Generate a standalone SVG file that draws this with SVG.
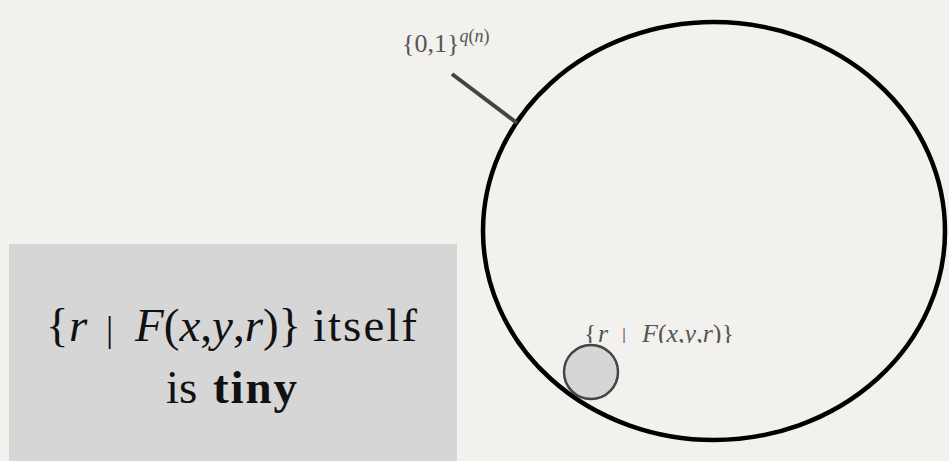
<svg xmlns="http://www.w3.org/2000/svg" width="949" height="461" viewBox="0 0 949 461">
<defs>
<style>
.lbl{font-family:"Liberation Serif","DejaVu Serif",serif;fill:#555}
.big{font-family:"Liberation Serif","DejaVu Serif",serif;fill:#111;font-size:47px}
.it{font-style:italic}
</style>
<clipPath id="clipLbl"><rect x="570" y="300" width="200" height="43"/></clipPath>
</defs>
<rect x="0" y="0" width="949" height="461" fill="#f2f1ed"/>
<g id="box">
<rect x="9" y="244" width="448" height="220" fill="#d6d6d6"/>
<text class="big" y="341"><tspan x="46">{</tspan><tspan class="it" x="69">r</tspan><tspan x="106" font-size="36">|</tspan><tspan x="135" class="it">F</tspan>(<tspan class="it">x</tspan>,<tspan class="it">y</tspan>,<tspan class="it">r</tspan>)}</text>
<text class="big" x="313" y="341" textLength="104" lengthAdjust="spacing">itself</text>
<text class="big" x="166" y="403">is</text>
<text class="big" x="213" y="403" font-weight="bold" textLength="84" lengthAdjust="spacing">tiny</text>
</g>
<g id="space">
<ellipse cx="714" cy="231" rx="231" ry="209" fill="none" stroke="#000" stroke-width="4.5"/>
<text class="lbl" x="402" y="52" font-size="26">{0,1}<tspan class="it" font-size="18" dy="-10">q</tspan><tspan font-size="18">(</tspan><tspan class="it" font-size="18">n</tspan><tspan font-size="18">)</tspan></text>
</g>
<g id="subset">
<circle cx="591" cy="372" r="27" fill="#d6d6d6" stroke="#444" stroke-width="2.5"/>
<text class="lbl" y="342" font-size="26" clip-path="url(#clipLbl)"><tspan x="584">{</tspan><tspan class="it" x="598">r</tspan><tspan x="622" font-size="20">|</tspan><tspan x="642" class="it">F</tspan>(<tspan class="it">x</tspan>,<tspan class="it">y</tspan>,<tspan class="it">r</tspan>)}</text>
</g>
<g id="connectors">
<line x1="452" y1="74" x2="517" y2="123" stroke="#444" stroke-width="4"/>
</g>
</svg>
